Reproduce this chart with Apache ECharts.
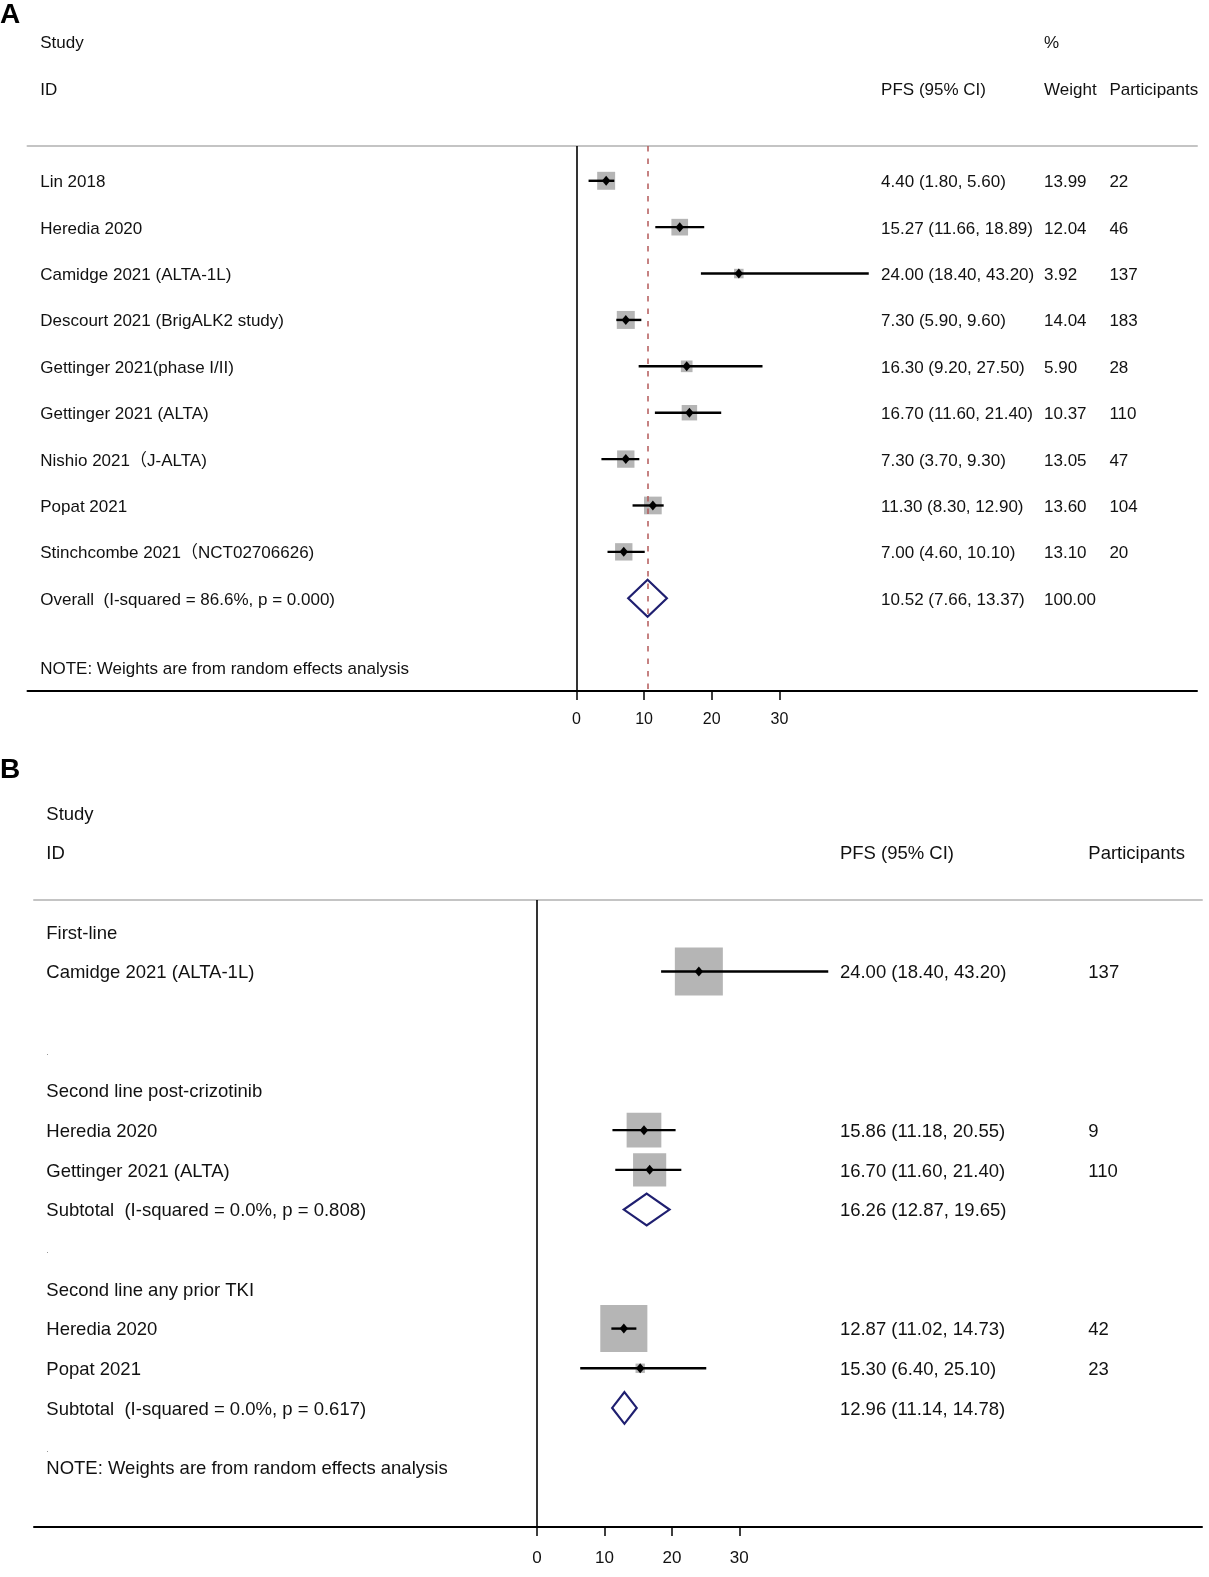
<!DOCTYPE html>
<html><head><meta charset="utf-8">
<script src="https://cdn.jsdelivr.net/npm/echarts@6/dist/echarts.min.js"></script>
<style>html,body{margin:0;padding:0;background:#fff}#c{width:1209px;height:1577px}</style>
</head><body><div id="c"></div>
<script>
// ---------------- Panel A data ----------------
const studiesA = ['Lin 2018','Heredia 2020','Camidge 2021 (ALTA-1L)','Descourt 2021 (BrigALK2 study)','Gettinger 2021(phase I/II)','Gettinger 2021 (ALTA)','Nishio 2021（J-ALTA)','Popat 2021','Stinchcombe 2021（NCT02706626)'];
const pfsA = [4.40,15.27,24.00,7.30,16.30,16.70,7.30,11.30,7.00];
const lowA = [1.80,11.66,18.40,5.90,9.20,11.60,3.70,8.30,4.60];
const highA = [5.60,18.89,43.20,9.60,27.50,21.40,9.30,12.90,10.10];
const weightA = [13.99,12.04,3.92,14.04,5.90,10.37,13.05,13.60,13.10];
const participantsA = [22,46,137,183,28,110,47,104,20];
const overallLabelA = 'Overall  (I-squared = 86.6%, p = 0.000)';
const overallA = [10.52, 7.66, 13.37];
const overallWeightA = 100.00;
const noteText = 'NOTE: Weights are from random effects analysis';
const ticksX = [0, 10, 20, 30];

// ---------------- Panel B data ----------------
const groupsB = ['First-line','Second line post-crizotinib','Second line any prior TKI'];
const studiesB = ['Camidge 2021 (ALTA-1L)','Heredia 2020','Gettinger 2021 (ALTA)','Heredia 2020','Popat 2021'];
const groupOfB = [0,1,1,2,2];
const pfsB = [24.00,15.86,16.70,12.87,15.30];
const lowB = [18.40,11.18,11.60,11.02,6.40];
const highB = [43.20,20.55,21.40,14.73,25.10];
const weightB = [100,52.3,47.7,96.2,3.8]; // (within-subgroup %)
const participantsB = [137,9,110,42,23];
const subLabelB = [null,'Subtotal  (I-squared = 0.0%, p = 0.808)','Subtotal  (I-squared = 0.0%, p = 0.617)'];
const subPfsB = [null,16.26,12.96];
const subLowB = [null,12.87,11.14];
const subHighB = [null,19.65,14.78];

// ---------------- helpers ----------------
const FONT = '"Liberation Sans", Arial, "Noto Sans CJK SC", sans-serif';
const BOX_K = 4.8;
const TEXT_DY = 1.8;
const fmt = v => v.toFixed(2);
const ciText = (e,l,h) => fmt(e) + ' (' + fmt(l) + ', ' + fmt(h) + ')';

function renderStudy(params, api){
  const est = api.value(0), lo = api.value(1), hi = api.value(2), row = api.value(3), w = api.value(4);
  const c = api.coord([est,row]), pl = api.coord([lo,row]), ph = api.coord([hi,row]);
  const s = BOX_K*Math.sqrt(w);
  return {type:'group', children:[
    {type:'rect', shape:{x:c[0]-s/2, y:c[1]-s/2, width:s, height:s}, style:{fill:'#b5b5b5'}},
    {type:'line', shape:{x1:pl[0], y1:c[1], x2:ph[0], y2:c[1]}, style:{stroke:'#000', lineWidth:2.4}},
    {type:'polygon', shape:{points:[[c[0],c[1]-5],[c[0]+4.2,c[1]],[c[0],c[1]+5],[c[0]-4.2,c[1]]]}, style:{fill:'#000'}}
  ]};
}
function renderDiamond(params, api){
  const est = api.value(0), lo = api.value(1), hi = api.value(2), row = api.value(3);
  const t = api.coord([est,row-0.4]), r = api.coord([hi,row]), b = api.coord([est,row+0.4]), l = api.coord([lo,row]);
  return {type:'polygon', shape:{points:[t,r,b,l]}, style:{fill:'#fff', stroke:'#1f1f70', lineWidth:2.2}};
}
function makeTextRender(items, cols, size){
  return function(params, api){
    const it = items[params.dataIndex];
    const y = api.coord([0, api.value(1)])[1] + TEXT_DY;
    return {type:'text', x: params.coordSys.x + cols[api.value(0)], y: y,
      style:{text: it.text, fontFamily: FONT, fontSize: it.size || size, fill: it.color || '#111', align:'left', verticalAlign:'middle'}};
  };
}

// ---------------- Panel A layout ----------------
const colsA = [12.7, 853.6, 1016.5, 1081.9];
const textA = [
  {c:0,r:-3,text:'Study'},{c:2,r:-3,text:'%'},
  {c:0,r:-2,text:'ID'},{c:1,r:-2,text:'PFS (95% CI)'},{c:2,r:-2,text:'Weight'},{c:3,r:-2,text:'Participants'}
];
const studyDataA = [];
studiesA.forEach((s,i)=>{
  textA.push({c:0,r:i,text:s});
  textA.push({c:1,r:i,text:ciText(pfsA[i],lowA[i],highA[i])});
  textA.push({c:2,r:i,text:fmt(weightA[i])});
  textA.push({c:3,r:i,text:String(participantsA[i])});
  studyDataA.push([pfsA[i],lowA[i],highA[i],i,weightA[i]]);
});
const overallRowA = studiesA.length;
textA.push({c:0,r:overallRowA,text:overallLabelA});
textA.push({c:1,r:overallRowA,text:ciText(overallA[0],overallA[1],overallA[2])});
textA.push({c:2,r:overallRowA,text:fmt(overallWeightA)});
textA.push({c:0,r:overallRowA+1.5,text:noteText});
const diamondA = [[overallA[0],overallA[1],overallA[2],overallRowA]];

// ---------------- Panel B layout ----------------
const colsB = [12.3, 805.9, 1054.3];
const textB = [
  {c:0,r:-3,text:'Study'},{c:0,r:-2,text:'ID'},{c:1,r:-2,text:'PFS (95% CI)'},{c:2,r:-2,text:'Participants'}
];
const studyDataB = [], diamondB = [];
let rowB = 0;
groupsB.forEach((g,gi)=>{
  textB.push({c:0,r:rowB++,text:g});
  studiesB.forEach((s,i)=>{
    if(groupOfB[i]!==gi) return;
    textB.push({c:0,r:rowB,text:s});
    textB.push({c:1,r:rowB,text:ciText(pfsB[i],lowB[i],highB[i])});
    textB.push({c:2,r:rowB,text:String(participantsB[i])});
    studyDataB.push([pfsB[i],lowB[i],highB[i],rowB,weightB[i]]);
    rowB++;
  });
  if(subLabelB[gi]){
    textB.push({c:0,r:rowB,text:subLabelB[gi]});
    textB.push({c:1,r:rowB,text:ciText(subPfsB[gi],subLowB[gi],subHighB[gi])});
    diamondB.push([subPfsB[gi],subLowB[gi],subHighB[gi],rowB]);
  }
  rowB++;
  textB.push({c:0,r:rowB,text:'.',size:9,color:'#888'});
  rowB++;
});
textB.push({c:0,r:rowB-0.5,text:noteText});

// ---------------- chart ----------------
function xAxes(gi, min, max, labelSize, margin){
  return [
    {gridIndex:gi, type:'value', position:'bottom', min:min, max:max,
      axisLine:{onZero:false, lineStyle:{color:'#000', width:2}},
      axisTick:{show:true, customValues:ticksX, length:9, lineStyle:{color:'#000', width:1.5}},
      axisLabel:{show:true, customValues:ticksX, margin:margin, color:'#111', fontSize:labelSize, fontFamily:FONT},
      splitLine:{show:false}},
    {gridIndex:gi, type:'value', position:'top', min:min, max:max,
      axisLine:{onZero:false, lineStyle:{color:'#c4c4c4', width:2}},
      axisTick:{show:false}, axisLabel:{show:false}, splitLine:{show:false}}
  ];
}
function yAxis(gi, min, max){
  return {gridIndex:gi, type:'value', inverse:true, min:min, max:max,
    axisLine:{show:false}, axisTick:{show:false}, axisLabel:{show:false}, splitLine:{show:false}};
}
const option = {
  animation:false,
  backgroundColor:'#fff',
  title:[
    {text:'A', left:0, top:1, padding:0, textStyle:{fontSize:28, fontWeight:'bold', color:'#000', fontFamily:FONT}},
    {text:'B', left:0, top:756, padding:0, textStyle:{fontSize:28, fontWeight:'bold', color:'#000', fontFamily:FONT}}
  ],
  grid:[
    {left:27.5, top:146, width:1169.5, height:545},
    {left:34, top:900, width:1168, height:627}
  ],
  xAxis:[].concat(xAxes(0,-81.1,91.7,16,21), xAxes(1,-74.64,98.65,17,23)),
  yAxis:[yAxis(0,-0.75,11), yAxis(1,-0.8,15)],
  series:[
    {type:'custom', xAxisIndex:0, yAxisIndex:0, clip:false, renderItem:renderStudy, data:studyDataA, z:3,
      markLine:{silent:true, symbol:'none', label:{show:false}, data:[
        {xAxis:0, lineStyle:{color:'#000', width:1.6, type:'solid'}},
        {xAxis:overallA[0], lineStyle:{color:'#b45a5a', width:1.5, type:[5.5,7]}}
      ]}},
    {type:'custom', xAxisIndex:0, yAxisIndex:0, clip:false, renderItem:renderDiamond, data:diamondA, z:4},
    {type:'custom', xAxisIndex:0, yAxisIndex:0, clip:false, renderItem:makeTextRender(textA,colsA,17),
      data:textA.map(t=>[t.c,t.r]), z:5},
    {type:'custom', xAxisIndex:2, yAxisIndex:1, clip:false, renderItem:renderStudy, data:studyDataB, z:3,
      markLine:{silent:true, symbol:'none', label:{show:false}, data:[
        {xAxis:0, lineStyle:{color:'#000', width:1.6, type:'solid'}}
      ]}},
    {type:'custom', xAxisIndex:2, yAxisIndex:1, clip:false, renderItem:renderDiamond, data:diamondB, z:4},
    {type:'custom', xAxisIndex:2, yAxisIndex:1, clip:false, renderItem:makeTextRender(textB,colsB,18.5),
      data:textB.map(t=>[t.c,t.r]), z:5}
  ]
};
const chart = echarts.init(document.getElementById('c'), null, {renderer:'canvas'});
chart.setOption(option);
</script>
</body></html>
